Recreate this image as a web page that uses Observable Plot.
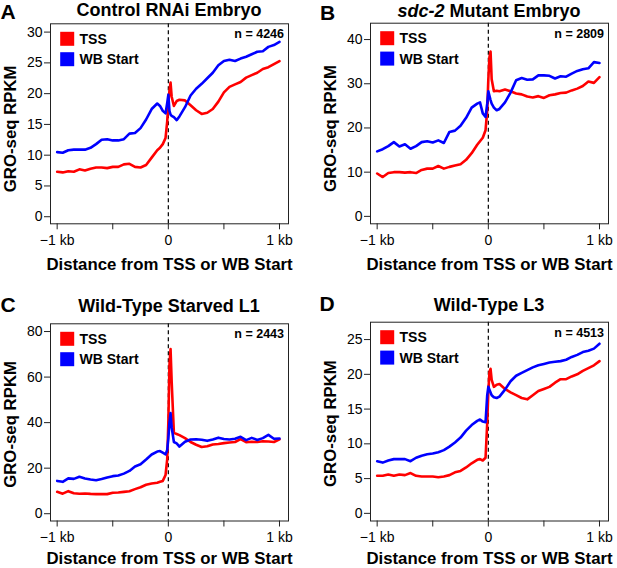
<!DOCTYPE html>
<html><head><meta charset="utf-8">
<script src="https://cdn.jsdelivr.net/npm/d3@7"></script>
<script src="https://cdn.jsdelivr.net/npm/@observablehq/plot@0.6"></script>
<style>
body{margin:0;background:#fff;}
#wrap{position:relative;width:617px;height:568px;overflow:hidden;font-family:"Liberation Sans",Arial,Helvetica,sans-serif;color:#000;}
.panel{position:absolute;}
.title{position:absolute;font-weight:bold;font-size:18px;line-height:18px;text-align:center;white-space:nowrap;}
.letter{position:absolute;font-weight:bold;font-size:21px;line-height:21px;}
</style></head><body><div id="wrap"></div>
<script>
const FONT = '"Liberation Sans", Arial, Helvetica, sans-serif';

// distance from TSS / WB start (bp)
const positions = [-1000,-950,-900,-850,-800,-750,-700,-650,-600,-550,-500,-450,-400,-350,-300,-250,-200,-150,-100,-75,-50,-25,-10,0,10,20,30,50,75,100,150,200,250,300,350,400,450,500,550,600,650,700,750,800,850,900,950,1000];

const xTicks = [-1000,-500,0,500,1000];
const xTickLabels = ["\u22121 kb","","0","","1 kb"];

// A: Control RNAi Embryo
const tssA = [7.3,7.2,7.4,7.3,7.7,7.5,7.8,8.0,8.0,7.9,8.1,8.1,8.5,8.6,8.1,8.0,8.4,9.6,10.8,11.2,11.8,12.8,15.5,18.5,20.5,21.8,19.5,18.0,18.8,19.0,18.9,18.1,17.3,16.7,16.9,17.5,18.7,20.2,21.1,21.5,21.9,22.6,23.0,23.4,24.0,24.3,24.8,25.3];
const wbA  = [10.5,10.4,10.8,10.9,10.9,10.9,11.2,11.8,12.5,12.6,12.4,12.4,12.6,13.5,13.6,14.4,15.8,17.5,18.4,18.0,17.2,16.8,18.5,19.8,17.2,16.6,16.4,16.2,15.7,16.3,17.8,19.7,20.8,21.6,22.5,23.4,24.6,25.3,25.5,25.3,25.7,26.0,26.4,26.8,26.9,27.6,27.9,28.4];

// B: sdc-2 Mutant Embryo
const tssB = [9.7,8.9,9.8,10.0,10.0,9.9,10.0,9.8,10.5,10.8,10.8,11.4,10.8,11.2,11.5,11.8,12.8,14.3,16.2,17.0,17.8,19.5,24.0,31.0,36.0,37.3,31.0,28.3,28.4,28.3,28.7,28.3,27.8,27.6,27.1,26.9,27.2,26.8,27.4,27.6,27.9,28.0,28.5,28.9,29.5,30.5,30.2,31.5];
const wbB  = [14.7,15.2,15.9,16.8,15.8,16.3,15.3,15.9,16.8,17.0,16.7,17.2,16.6,19.1,19.4,20.5,22.3,24.6,25.5,25.8,23.3,22.5,25.5,28.3,27.3,26.3,25.5,24.6,24.0,24.3,25.8,28.0,30.8,31.3,30.9,31.0,31.9,31.9,31.8,31.2,31.7,31.6,32.3,32.9,33.3,33.5,34.9,34.7];

// C: Wild-Type Starved L1
const tssC = [9.6,8.8,9.9,9.0,8.8,8.9,8.7,8.6,8.6,8.6,9.2,9.3,9.6,9.9,10.8,11.6,12.7,13.3,13.6,14.0,14.4,17.0,24.0,40.0,65.0,72.3,58.0,35.5,35.0,34.5,33.2,31.5,30.3,29.3,29.6,30.4,30.6,31.0,31.3,31.5,32.8,31.4,31.6,31.5,31.8,31.7,31.5,32.7];
const wbC  = [14.4,14.0,15.5,15.3,16.2,15.5,15.0,14.7,15.2,15.9,16.5,16.8,17.6,18.8,20.7,21.7,23.8,26.0,27.3,27.5,26.8,26.1,28.0,33.0,40.0,44.2,38.0,31.5,30.9,29.5,31.6,32.6,32.7,32.5,32.0,32.6,33.4,32.8,32.6,32.9,33.8,32.3,33.3,32.4,33.2,34.6,32.9,33.0];

// D: Wild-Type L3
const tssD = [5.4,5.4,5.6,5.4,5.6,5.5,5.8,5.4,5.3,5.3,5.3,5.2,5.3,5.5,5.9,6.1,6.6,7.2,7.7,7.8,7.6,8.0,13.0,17.5,20.3,20.8,19.2,18.2,18.5,18.6,17.9,17.4,17.0,16.6,16.4,17.0,17.6,17.9,18.2,18.8,19.3,19.3,19.7,20.0,20.5,20.9,21.3,21.9];
const wbD  = [7.5,7.3,7.6,7.8,7.8,7.8,7.5,8.0,8.3,8.5,8.6,8.8,9.1,9.6,10.2,10.9,11.9,12.7,13.3,13.5,13.2,13.1,17.0,18.2,17.8,17.4,17.0,16.7,16.6,16.8,17.8,19.0,19.8,20.2,20.6,21.0,21.3,21.5,21.7,21.8,21.9,22.1,22.5,22.8,23.2,23.4,23.7,24.4];

const seriesNames = ["TSS","WB Start"];
const seriesColors = ["#ff0000","#0000ff"];
const xLabel = "Distance from TSS or WB Start";
const yLabel = "GRO-seq RPKM";

const panels = [
  {letter:"A", title:"Control RNAi Embryo", n:"n = 4246", tss:tssA, wb:wbA, yTicks:[0,5,10,15,20,25,30], yDomain:[-1.15,31.35],
   left:0, top:0, mt:23.3, mb:60.7, titleTop:1, letterLeft:0.5, letterTop:0.6, xTitleDy:41, yTitleDy:5},
  {letter:"B", title:"<i>sdc-2</i> Mutant Embryo", n:"n = 2809", tss:tssB, wb:wbB, yTicks:[0,10,20,30,40], yDomain:[-1.68,43.7],
   left:320, top:0, mt:22.7, mb:60.7, titleTop:2, letterLeft:320, letterTop:2.3, xTitleDy:41, yTitleDy:5},
  {letter:"C", title:"Wild-Type Starved L1", n:"n = 2443", tss:tssC, wb:wbC, yTicks:[0,20,40,60,80], yDomain:[-3.2,83.4],
   left:0, top:284, mt:39.3, mb:47.5, titleTop:296.9, letterLeft:0.5, letterTop:294.3, xTitleDy:37.3, yTitleDy:2},
  {letter:"D", title:"Wild-Type L3", n:"n = 4513", tss:tssD, wb:wbD, yTicks:[0,5,10,15,20,25], yDomain:[-1.1,27.5],
   left:320, top:284, mt:37.7, mb:47.5, titleTop:296, letterLeft:319.5, letterTop:293.3, xTitleDy:37.3, yTitleDy:2}
];

const wrap = document.getElementById("wrap");
const rows = (arr) => positions.map((x, i) => ({x, y: arr[i]}));

for (const p of panels) {
  const chart = Plot.plot({
    width: 297, height: 284,
    marginLeft: 50, marginRight: 9, marginTop: p.mt, marginBottom: p.mb,
    x: {domain: [-1060, 1081]},
    y: {domain: p.yDomain},
    style: {fontFamily: FONT, fontSize: "14px", color: "#000", background: "transparent", overflow: "visible"},
    marks: [
      Plot.axisY({ticks: p.yTicks, tickSize: 6, tickPadding: 2, label: null, fontSize: 14, stroke: "#222"}),
      Plot.axisX({ticks: xTicks, tickSize: 6, tickPadding: 5, label: null, fontSize: 14, stroke: "#222",
                  tickFormat: d => xTickLabels[xTicks.indexOf(d)]}),
      Plot.ruleX([0], {stroke: "#000", strokeDasharray: "4,3", strokeWidth: 1.2}),
      Plot.line(rows(p.tss), {x: "x", y: "y", stroke: seriesColors[0], strokeWidth: 2.6}),
      Plot.line(rows(p.wb), {x: "x", y: "y", stroke: seriesColors[1], strokeWidth: 2.6}),
      Plot.frame({stroke: "#222", strokeWidth: 1}),
      Plot.dot([0], {frameAnchor: "top-left", dx: 16.7, dy: 15, symbol: "square", r: 7.9, fill: seriesColors[0]}),
      Plot.dot([0], {frameAnchor: "top-left", dx: 16.7, dy: 35.4, symbol: "square", r: 7.9, fill: seriesColors[1]}),
      Plot.text([seriesNames[0]], {frameAnchor: "top-left", dx: 29, dy: 15.4, text: d => d, textAnchor: "start", lineAnchor: "middle", fontWeight: "bold", fontSize: 14}),
      Plot.text([seriesNames[1]], {frameAnchor: "top-left", dx: 29, dy: 35.9, text: d => d, textAnchor: "start", lineAnchor: "middle", fontWeight: "bold", fontSize: 14}),
      Plot.text([p.n], {frameAnchor: "top-right", dx: -4.5, dy: 5.5, text: d => d, textAnchor: "end", lineAnchor: "top", fontWeight: "bold", fontSize: 12.5}),
      Plot.text([xLabel], {frameAnchor: "bottom", dy: p.xTitleDy, text: d => d, textAnchor: "middle", lineAnchor: "middle", fontWeight: "bold", fontSize: 16.8}),
      Plot.text([yLabel], {frameAnchor: "left", dx: -40, dy: p.yTitleDy, rotate: -90, text: d => d, textAnchor: "middle", lineAnchor: "middle", fontWeight: "bold", fontSize: 16.8})
    ]
  });
  chart.classList.add("panel");
  chart.style.left = p.left + "px";
  chart.style.top = p.top + "px";
  chart.style.position = "absolute";
  wrap.appendChild(chart);

  const t = document.createElement("div");
  t.className = "title";
  t.innerHTML = p.title;
  t.style.left = (p.left + 50) + "px";
  t.style.width = "238px";
  t.style.top = p.titleTop + "px";
  wrap.appendChild(t);

  const l = document.createElement("div");
  l.className = "letter";
  l.textContent = p.letter;
  l.style.left = p.letterLeft + "px";
  l.style.top = p.letterTop + "px";
  wrap.appendChild(l);
}
</script></body></html>
